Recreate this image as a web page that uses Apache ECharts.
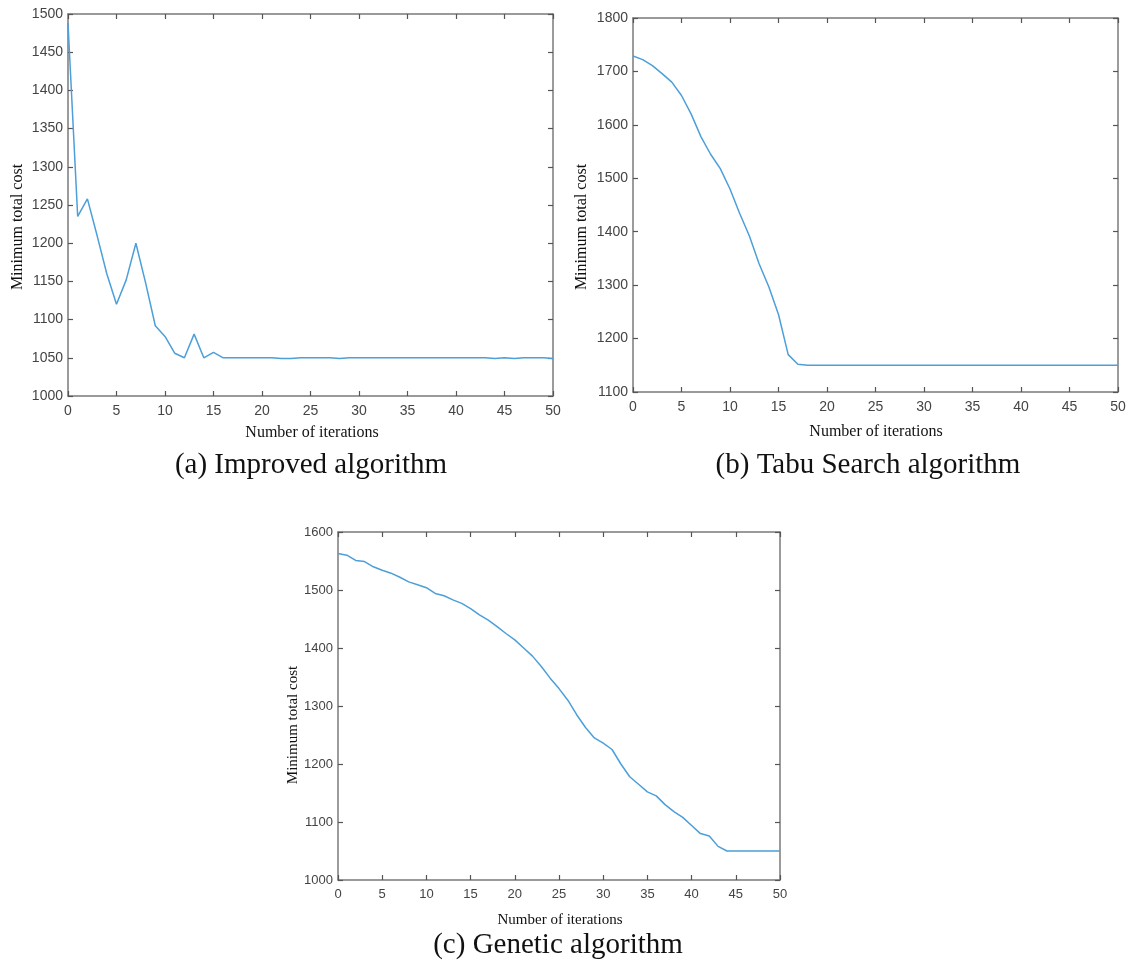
<!DOCTYPE html>
<html><head><meta charset="utf-8">
<script src="https://cdn.jsdelivr.net/npm/echarts@6/dist/echarts.min.js"></script>
<style>html,body{margin:0;padding:0;background:#fff}#c{width:1141px;height:961px}</style>
</head><body><div id="c"></div>
<script>
const iterations = [0,1,2,3,4,5,6,7,8,9,10,11,12,13,14,15,16,17,18,19,20,21,22,23,24,25,26,27,28,29,30,31,32,33,34,35,36,37,38,39,40,41,42,43,44,45,46,47,48,49,50];
const improvedCost = [1488,1235,1258,1210,1160,1120,1152,1200,1148,1092,1078,1056,1050,1081,1050,1057,1050,1050,1050,1050,1050,1050,1049,1049,1050,1050,1050,1050,1049,1050,1050,1050,1050,1050,1050,1050,1050,1050,1050,1050,1050,1050,1050,1050,1049,1050,1049,1050,1050,1050,1049];
const tabuCost = [1729,1722,1711,1696,1680,1655,1620,1578,1545,1518,1480,1434,1392,1340,1297,1245,1170,1152,1150,1150,1150,1150,1150,1150,1150,1150,1150,1150,1150,1150,1150,1150,1150,1150,1150,1150,1150,1150,1150,1150,1150,1150,1150,1150,1150,1150,1150,1150,1150,1150,1150];
const geneticCost = [1563,1560,1551,1549,1540,1534,1529,1522,1514,1509,1504,1494,1490,1483,1477,1468,1457,1448,1437,1425,1414,1400,1386,1368,1348,1330,1310,1285,1263,1245,1236,1225,1200,1178,1165,1152,1145,1130,1118,1108,1094,1080,1076,1058,1050,1050,1050,1050,1050,1050,1050];

const xRange = {min: 0, max: 50, interval: 5};
const yRangeA = {min: 1000, max: 1500, interval: 50};
const yRangeB = {min: 1100, max: 1800, interval: 100};
const yRangeC = {min: 1000, max: 1600, interval: 100};

const yTitle = 'Minimum total cost';
const xTitle = 'Number of iterations';
const captions = ['(a) Improved algorithm', '(b) Tabu Search algorithm', '(c) Genetic algorithm'];

const lineColor = '#4c9fd9';
const boxColor = '#7a7a7a';

function pairs(xs, ys){ return xs.map((x,i)=>[x, ys[i]]); }

const grids = [
  {left: 68, top: 14, width: 485, height: 382},
  {left: 633, top: 18, width: 485, height: 374},
  {left: 338, top: 532, width: 442, height: 348}
];
const yRanges = [yRangeA, yRangeB, yRangeC];
const fonts = [14, 14, 13];
const plain = v => String(v);

const xAxes = [], yAxes = [];
grids.forEach((g, i) => {
  const common = {
    gridIndex: i, type: 'value',
    axisLine: {show: true, onZero: false, lineStyle: {color: boxColor, width: 1.5}},
    axisTick: {show: true, inside: true, length: 5, lineStyle: {color: '#555', width: 1.2}},
    splitLine: {show: false}
  };
  xAxes.push(Object.assign({}, common, xRange, {position: 'bottom',
    axisLabel: {show: true, formatter: plain, fontSize: fonts[i], color: '#444', fontFamily: 'Liberation Sans, Arial, sans-serif', margin: 8}}));
  xAxes.push(Object.assign({}, common, xRange, {position: 'top', axisLabel: {show: false}}));
  yAxes.push(Object.assign({}, common, yRanges[i], {position: 'left',
    axisLabel: {show: true, formatter: plain, fontSize: fonts[i], color: '#444', fontFamily: 'Liberation Sans, Arial, sans-serif', margin: 5}}));
  yAxes.push(Object.assign({}, common, yRanges[i], {position: 'right', axisLabel: {show: false}}));
});

const costSeries = [improvedCost, tabuCost, geneticCost];
const series = costSeries.map((vals, i) => ({
  type: 'line', xAxisIndex: i*2, yAxisIndex: i*2,
  data: pairs(iterations, vals), showSymbol: false, symbol: 'none',
  lineStyle: {color: lineColor, width: 1.5}, animation: false
}));

const serif = 'Liberation Serif, "Times New Roman", serif';
function txt(x, y, text, size, rot){
  return {type: 'text', x: x, y: y, rotation: rot || 0,
    style: {text: text, font: size + 'px ' + serif, fill: '#111', align: 'center', verticalAlign: 'middle'}};
}
const graphic = [
  txt(18, 227, yTitle, 16, Math.PI/2),
  txt(582, 227, yTitle, 16, Math.PI/2),
  txt(293, 725, yTitle, 15, Math.PI/2),
  txt(312, 433, xTitle, 16),
  txt(876, 432, xTitle, 16),
  txt(560, 920, xTitle, 15),
  txt(311, 465, captions[0], 29),
  txt(868, 465, captions[1], 29),
  txt(558, 945, captions[2], 29)
];

const chart = echarts.init(document.getElementById('c'), null, {renderer: 'canvas'});
chart.setOption({
  animation: false,
  backgroundColor: '#fff',
  grid: grids.map(g => Object.assign({containLabel: false}, g)),
  xAxis: xAxes, yAxis: yAxes, series: series, graphic: graphic
});
</script></body></html>
